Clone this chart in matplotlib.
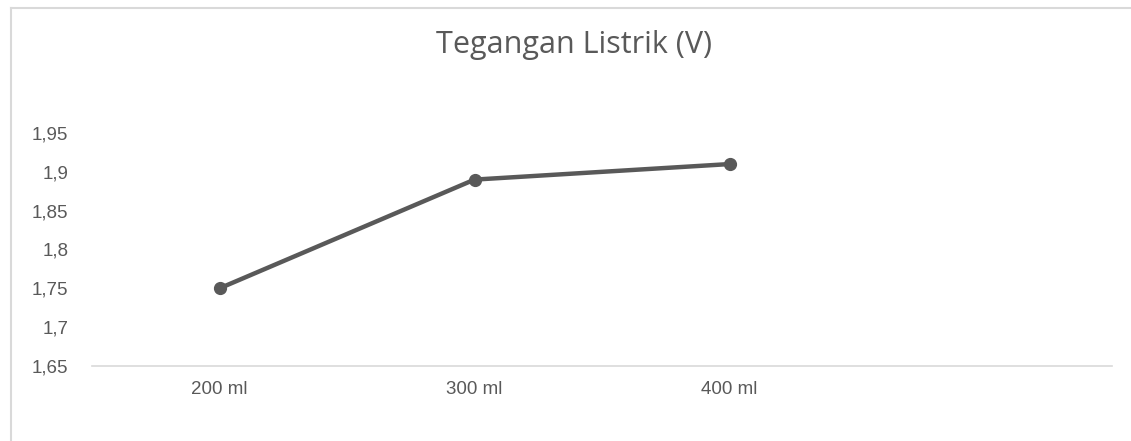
import matplotlib.pyplot as plt
from matplotlib.lines import Line2D
from matplotlib.ticker import FuncFormatter

# data tegangan per volume
volume = ["200 ml", "300 ml", "400 ml", ""]
tegangan = [1.75, 1.89, 1.91]

abu = "#595959"

fig = plt.figure(figsize=(11.31, 4.41), dpi=100)
fig.patch.set_facecolor("white")

# bingkai chart: hanya sisi atas dan kiri yang terlihat
bx, by = 11 / 1131, 1 - 8 / 441
fig.add_artist(Line2D([bx, 1], [by, by], transform=fig.transFigure,
                      color="#d9d9d9", linewidth=1.5))
fig.add_artist(Line2D([bx, bx], [0, by], transform=fig.transFigure,
                      color="#d9d9d9", linewidth=1.5))

ax = fig.add_axes([92 / 1131, 1 - 366 / 441, 1020 / 1131, 233 / 441])

x = list(range(len(tegangan)))
ax.plot(x, tegangan, color=abu, linewidth=3.2, marker="o", markersize=8.5,
        solid_capstyle="round", zorder=3)

ax.set_xlim(-0.5, len(volume) - 0.5)
ax.set_ylim(1.65, 1.95)
ax.set_xticks(range(len(volume)))
ax.set_xticklabels(volume)
ax.set_yticks([1.65, 1.7, 1.75, 1.8, 1.85, 1.9, 1.95])
ax.yaxis.set_major_formatter(FuncFormatter(lambda v, p: ("%g" % round(v, 2)).replace(".", ",")))

for s in ["top", "right", "left"]:
    ax.spines[s].set_visible(False)
ax.spines["bottom"].set_color("#d9d9d9")
ax.spines["bottom"].set_linewidth(1.2)

ax.tick_params(axis="both", length=0, colors=abu, labelsize=13.5)
ax.tick_params(axis="y", pad=17)
ax.tick_params(axis="x", pad=11)
for lbl in ax.get_xticklabels() + ax.get_yticklabels():
    lbl.set_fontfamily("Liberation Sans")

fig.text(574 / 1131, 1 - 45 / 441, "Tegangan Listrik (V)", ha="center", va="center",
         fontsize=22, color=abu, family="Open Sans")

fig.savefig("out.png", dpi=100)
